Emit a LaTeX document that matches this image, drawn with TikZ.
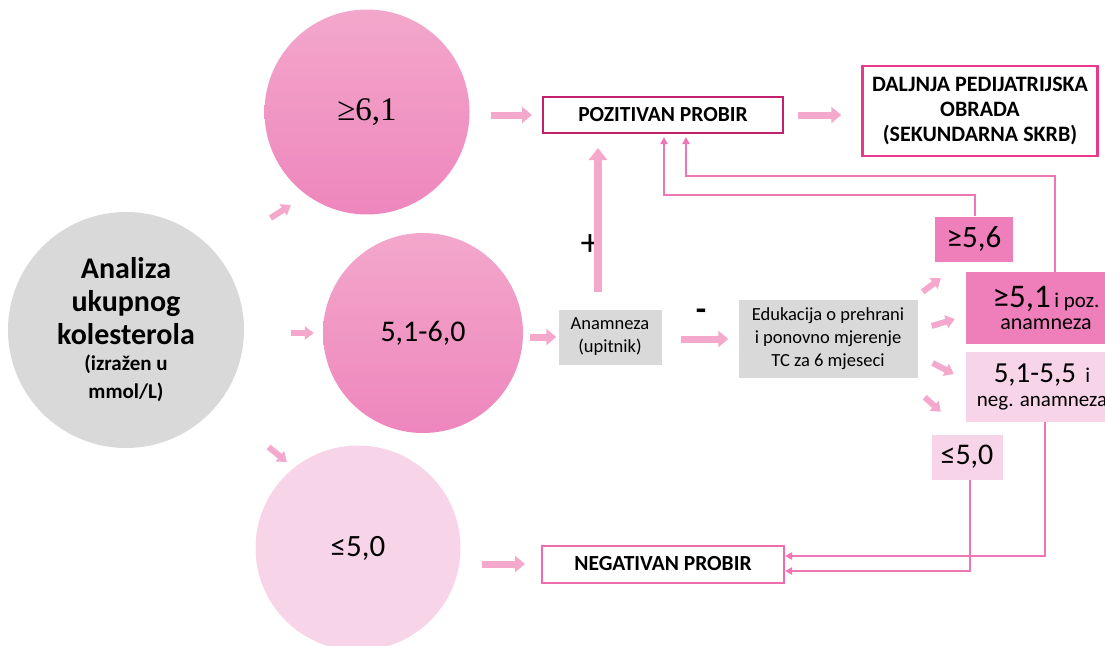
\documentclass[tikz,border=0pt]{standalone}
\usepackage{fontspec}
\setmainfont{Carlito}
\newfontfamily\timesfont{Liberation Serif}
\usetikzlibrary{arrows.meta,calc}
\def\fs#1#2{\fontsize{#1}{#2}\selectfont}
\definecolor{greyfill}{HTML}{D9D9D9}
\definecolor{pinktop}{HTML}{F3A7CB}
\definecolor{pinkbot}{HTML}{EE86BD}
\definecolor{pinklight}{HTML}{F8D4E8}
\definecolor{pinkmid}{HTML}{EE7FBA}
\definecolor{arrowpink}{HTML}{F4A8CC}
\definecolor{linkpink}{HTML}{EE76B4}
\definecolor{pozline}{HTML}{C0206C}
\definecolor{dalline}{HTML}{E8398D}
\definecolor{negline}{HTML}{EE6CAC}
\tikzset{
  disc/.style={circle,minimum size=#1,inner sep=0pt,align=center},
  greybox/.style={fill=greyfill,inner sep=0pt,align=center,font=\fs{18.5}{23}},
  valbox/.style={inner sep=0pt,align=center},
  probir/.style={draw,fill=white,line width=2pt,inner sep=0pt,font=\fs{21.5}{25}\bfseries},
  blk/.style={arrowpink,line width=7pt,-{Triangle[length=10pt,width=16pt]}},
  smallblk/.style={arrowpink,line width=6pt,-{Triangle[length=9pt,width=13pt]}},
  link/.style={linkpink,line width=1.8pt,-{Triangle[length=7pt,width=7pt]}},
}

\begin{document}
\begin{tikzpicture}[x=1pt,y=-1pt]
\useasboundingbox (0,0) rectangle (1105,645);
% the four discs
\node[disc=236,fill=greyfill,font=\fs{30}{33}\bfseries] (ana) at (126,330)
  {Analiza\\ukupnog\\kolesterola\\[-7pt]\fs{21}{24}(izražen u\\[-5pt]\fs{21}{24}mmol/L)};
\node[disc=205,top color=pinktop,bottom color=pinkbot,font=\timesfont\fs{33}{36}] (c61) at (367,112) {≥6,1};
\node[disc=200,top color=pinktop,bottom color=pinkbot,font=\fs{30}{34}] (c5160) at (423,333) {5,1-6,0};
\node[disc=205,fill=pinklight,font=\fs{31}{34}] (c50) at (358,548) {≤5,0};
% boxes
\node[probir,draw=pozline,minimum width=240,minimum height=36] (poz) at (663,115) {POZITIVAN PROBIR};
\node[probir,draw=dalline,line width=2.5pt,minimum width=235,minimum height=90,align=center,font=\fs{22}{25}\bfseries]
  (dal) at (980,111) {DALJNJA PEDIJATRIJSKA\\OBRADA\\(SEKUNDARNA SKRB)};
\node[probir,draw=negline,minimum width=242,minimum height=37] (neg) at (663,564) {NEGATIVAN PROBIR};
\node[greybox,minimum width=103,minimum height=55] (anam) at (610,337) {Anamneza\\(upitnik)};
\node[greybox,minimum width=179,minimum height=78] (edu) at (828,339)
  {Edukacija o prehrani\\i ponovno mjerenje\\TC za 6 mjeseci};
\node[valbox,fill=pinkmid,minimum width=78,minimum height=45,font=\fs{31}{34}] (g56) at (974,239) {≥5,6};
\node[valbox,fill=pinkmid,minimum width=160,minimum height=72,font=\fs{22}{26}] (g51) at (1046,308)
  {{\fs{33}{30}≥5,1}\,{\fs{21}{26}i poz.}\\[-4pt]anamneza};
\node[valbox,fill=pinklight,minimum width=160,minimum height=70,font=\fs{21}{26}] (g5155) at (1046,387)
  {\hspace*{-8pt}{\fs{29}{30}5,1-5,5}\ \ i\\[-2pt]\hspace*{-8pt}neg. anamneza};
\node[valbox,fill=pinklight,minimum width=71,minimum height=45,font=\fs{30}{32}] (le50) at (967,457) {≤5,0};
\node[font=\fs{38}{38}] (plus) at (590,245) {+};
\node[font=\fs{34}{34}\bfseries] (minus) at (701,315) {-};
% block arrows
\draw[smallblk] ([shift={(54,-36)}]ana.40) -- ([shift={(2.5,27)}]c61.220);
\draw[smallblk,shorten <=47] (ana.east |- c5160.west) -- ([xshift=-9]c5160.west);
\draw[smallblk] ([shift={(52,41)}]ana.-40) -- ([shift={(7.5,-20)}]c50.140);
\draw[blk,shorten <=21,shorten >=10] (c61.east |- poz.west) -- (poz.west);
\draw[blk,shorten <=14,shorten >=20] (poz.east) -- (poz.east -| dal.west);
\draw[blk,shorten <=7,shorten >=2] (c5160.east |- anam.west) -- (anam.west);
\draw[blk,shorten <=19,shorten >=10] (anam.east |- edu.west) -- (edu.west);
\draw[blk,line width=8pt,-{Triangle[length=12pt,width=18pt]},shorten <=17,shorten >=14]
  ([xshift=-12]anam.north) -- ([xshift=-12]anam.north |- poz.south);
\draw[blk,shorten <=21,shorten >=16] (c50.east |- neg.west) -- (neg.west);
\draw[smallblk] ([shift={(5,-8)}]edu.north east) -- ([shift={(6,16.5)}]g56.south west);
\draw[smallblk] ([shift={(14,-13)}]edu.east) -- ([shift={(-11,11)}]g51.west);
\draw[smallblk] ([shift={(15,24)}]edu.east) -- ([shift={(-12,-13)}]g5155.west);
\draw[smallblk] ([shift={(7,19)}]edu.south east) -- ([shift={(9.5,-22.5)}]le50.north west);
% thin connectors
\draw[link,shorten >=3] ([xshift=1]g56.north) -- ++(0,-21) -| ([xshift=1]poz.south);
\draw[link,shorten >=3] ([xshift=9]g51.north) -- ++(0,-96) -| ([xshift=23]poz.south);
\draw[link] ([xshift=3]le50.south) |- ([yshift=-7]neg.east);
\draw[link] ([xshift=-1]g5155.south) |- ([yshift=8]neg.east);
\end{tikzpicture}
\end{document}
